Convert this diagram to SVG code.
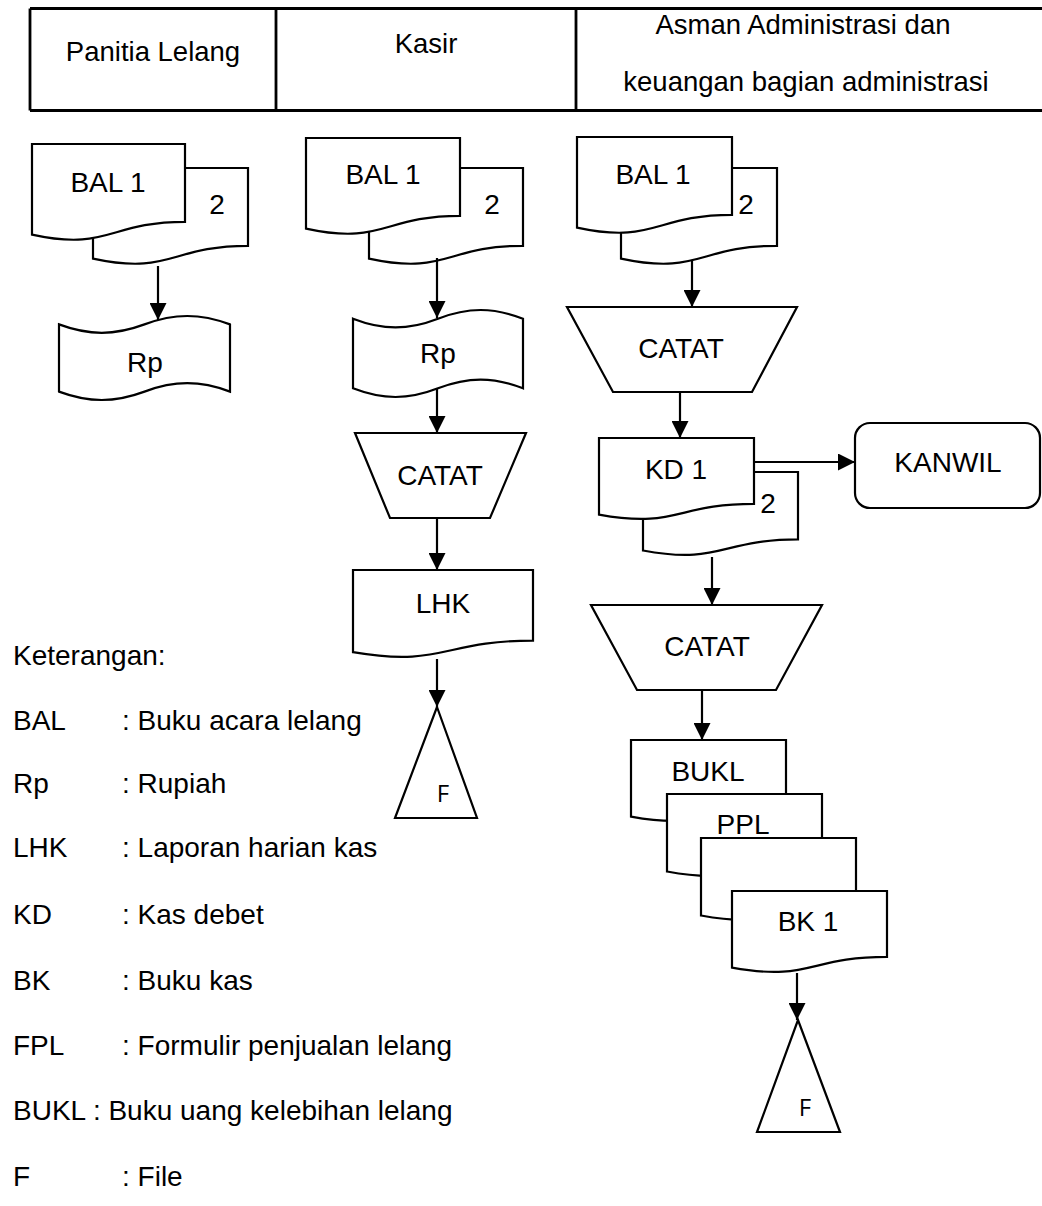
<svg xmlns="http://www.w3.org/2000/svg" width="1042" height="1206" viewBox="0 0 1042 1206">
  <defs>
    <marker id="arrow" markerUnits="userSpaceOnUse" markerWidth="17" markerHeight="17" viewBox="0 0 17 17" refX="17" refY="8.5" orient="auto">
      <path d="M0,0 L17,8.5 L0,17 Z" fill="#000"/>
    </marker>
    <style>
      .shape { fill: #fff; stroke: #000; stroke-width: 2.2; stroke-linejoin: miter; }
      .grid { fill: none; stroke: #000; stroke-width: 2.8; }
      .link { fill: none; stroke: #000; stroke-width: 2.2; marker-end: url(#arrow); }
      text { font-family: "Liberation Sans", Arial, sans-serif; fill: #000; }
      .hd { font-size: 27.5px; text-anchor: middle; }
      .lb { font-size: 28px; text-anchor: middle; }
      .lg { font-size: 28px; }
      .fl { font-family: "Open Sans", "Noto Sans", sans-serif; font-size: 24px; text-anchor: middle; }
    </style>
  </defs>

  <!-- swimlane header -->
  <g id="header">
    <path class="grid" d="M30,8.5 H1042 M30,110.5 H1042 M30,8.5 V110.5 M276,8.5 V110.5 M576,8.5 V110.5"/>
    <text class="hd" x="153" y="61">Panitia Lelang</text>
    <text class="hd" x="426" y="53">Kasir</text>
    <text class="hd" x="803" y="34">Asman Administrasi dan</text>
    <text class="hd" x="806" y="91">keuangan bagian administrasi</text>
  </g>

  <!-- Panitia Lelang lane -->
  <g id="pl-bal">
    <path class="shape" d="M93,168 H248 V245.8 C170.5,245.8 170.5,275.4 93,258.6 Z"/>
    <path class="shape" d="M32,144 H185 V221.8 C108.5,221.8 108.5,251.4 32,234.6 Z"/>
    <text class="lb" x="108" y="192">BAL 1</text>
    <text class="lb" x="217" y="214">2</text>
  </g>
  <g id="pl-rp">
    <path class="shape" d="M59,324.4 C89,335.6 114.5,335.6 144.5,324.4 C174.5,313.2 200,313.2 230,324.4 L230,391.6 C200,380.4 174.5,380.4 144.5,391.6 C114.5,402.8 89,402.8 59,391.6 Z"/>
    <text class="lb" x="145" y="372">Rp</text>
  </g>

  <!-- Kasir lane -->
  <g id="ks-bal">
    <path class="shape" d="M369,168 H523 V245.8 C446,245.8 446,275.4 369,258.6 Z"/>
    <path class="shape" d="M306,138 H460 V215.8 C383,215.8 383,245.4 306,228.6 Z"/>
    <text class="lb" x="383" y="184">BAL 1</text>
    <text class="lb" x="492" y="214">2</text>
  </g>
  <g id="ks-rp">
    <path class="shape" d="M353,318.7 C383,330.3 408,330.3 438,318.7 C468,307.1 493,307.1 523,318.7 L523,388.3 C493,376.7 468,376.7 438,388.3 C408,399.9 383,399.9 353,388.3 Z"/>
    <text class="lb" x="438" y="363">Rp</text>
  </g>
  <g id="ks-catat">
    <path class="shape" d="M355,433 L526,433 L490,518 L390,518 Z"/>
    <text class="lb" x="440" y="485">CATAT</text>
  </g>
  <g id="ks-lhk">
    <path class="shape" d="M353,570 H533 V640.6 C443,640.6 443,667.5 353,652.2 Z"/>
    <text class="lb" x="443" y="613">LHK</text>
  </g>
  <g id="ks-file">
    <path class="shape" d="M437,707 L477,818 L395,818 Z"/>
    <text class="fl" x="443" y="802">F</text>
  </g>

  <!-- Asman Administrasi dan keuangan lane -->
  <g id="as-bal">
    <path class="shape" d="M621,168 H777 V245.8 C699,245.8 699,275.4 621,258.6 Z"/>
    <path class="shape" d="M577,137 H732 V214.8 C654.5,214.8 654.5,244.4 577,227.6 Z"/>
    <text class="lb" x="653" y="184">BAL 1</text>
    <text class="lb" x="746" y="214">2</text>
  </g>
  <g id="as-catat1">
    <path class="shape" d="M567,307 L797,307 L752,392 L613,392 Z"/>
    <text class="lb" x="681" y="358">CATAT</text>
  </g>
  <g id="as-kd">
    <path class="shape" d="M643,472 H798 V539.4 C720.5,539.4 720.5,565 643,550.5 Z"/>
    <path class="shape" d="M599,438 H754 V503.8 C676.5,503.8 676.5,528.8 599,514.6 Z"/>
    <text class="lb" x="676" y="479">KD 1</text>
    <text class="lb" x="768" y="513">2</text>
  </g>
  <g id="as-kanwil">
    <rect class="shape" x="855" y="423" width="185" height="85" rx="15" ry="15"/>
    <text class="lb" x="948" y="472">KANWIL</text>
  </g>
  <g id="as-catat2">
    <path class="shape" d="M591,605 L822,605 L776,690 L637,690 Z"/>
    <text class="lb" x="707" y="656">CATAT</text>
  </g>
  <g id="as-books">
    <path class="shape" d="M631,740 H786 V805.8 C708.5,805.8 708.5,830.8 631,816.6 Z"/>
    <text class="lb" x="708" y="781">BUKL</text>
    <path class="shape" d="M667,794 H822 V860.6 C744.5,860.6 744.5,885.9 667,871.5 Z"/>
    <text class="lb" x="743" y="834">PPL</text>
    <path class="shape" d="M701,838 H856 V904.6 C778.5,904.6 778.5,929.9 701,915.5 Z"/>
    <path class="shape" d="M732,891 H887 V956.8 C809.5,956.8 809.5,981.8 732,967.6 Z"/>
    <text class="lb" x="808" y="931">BK 1</text>
  </g>
  <g id="as-file">
    <path class="shape" d="M798,1020 L840,1132 L757,1132 Z"/>
    <text class="fl" x="805" y="1116">F</text>
  </g>

  <!-- connectors -->
  <g id="connectors">
    <line class="link" x1="158" y1="266" x2="158" y2="320"/>
    <line class="link" x1="437" y1="258" x2="437" y2="318"/>
    <line class="link" x1="437" y1="388" x2="437" y2="433"/>
    <line class="link" x1="437" y1="518" x2="437" y2="570"/>
    <line class="link" x1="437" y1="659" x2="437" y2="707"/>
    <line class="link" x1="692" y1="260" x2="692" y2="307"/>
    <line class="link" x1="680" y1="392" x2="680" y2="438"/>
    <line class="link" x1="754" y1="462" x2="855" y2="462"/>
    <line class="link" x1="712" y1="557" x2="712" y2="605"/>
    <line class="link" x1="702" y1="690" x2="702" y2="740"/>
    <line class="link" x1="797" y1="973" x2="797" y2="1020"/>
  </g>

  <!-- legend -->
  <g id="legend" class="lg">
    <text x="13" y="665">Keterangan:</text>
    <text x="13" y="730">BAL</text><text x="122" y="730">: Buku acara lelang</text>
    <text x="13" y="793">Rp</text><text x="122" y="793">: Rupiah</text>
    <text x="13" y="857">LHK</text><text x="122" y="857">: Laporan harian kas</text>
    <text x="13" y="924">KD</text><text x="122" y="924">: Kas debet</text>
    <text x="13" y="990">BK</text><text x="122" y="990">: Buku kas</text>
    <text x="13" y="1055">FPL</text><text x="122" y="1055">: Formulir penjualan lelang</text>
    <text x="13" y="1120">BUKL : Buku uang kelebihan lelang</text>
    <text x="13" y="1186">F</text><text x="122" y="1186">: File</text>
  </g>
</svg>
